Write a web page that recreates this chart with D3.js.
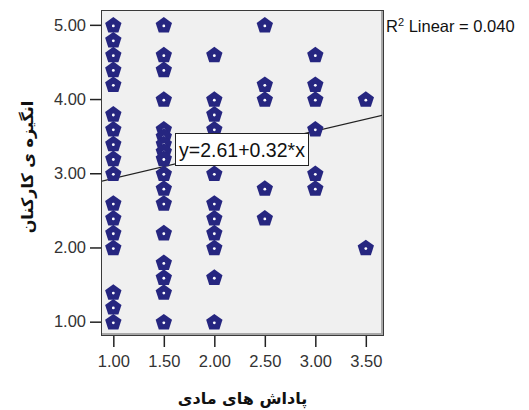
<!DOCTYPE html>
<html>
<head>
<meta charset="utf-8">
<script src="https://cdn.jsdelivr.net/npm/d3@7"></script>
<style>
  body { margin: 0; background: #fff; }
  svg { display: block; }
</style>
</head>
<body>
<script>
// points, one list per x column
var xColumns = [1.0, 1.5, 2.0, 2.5, 3.0, 3.5];
var yByColumn = [
    [5.0, 4.8, 4.6, 4.4, 4.2, 3.8, 3.6, 3.4, 3.2, 3.0, 2.6, 2.4, 2.2, 2.0, 1.4, 1.2, 1.0],
    [5.0, 4.6, 4.4, 4.0, 3.6, 3.5, 3.4, 3.3, 3.2, 3.0, 2.8, 2.6, 2.2, 1.8, 1.6, 1.4, 1.0],
    [4.6, 4.0, 3.8, 3.6, 3.0, 2.6, 2.4, 2.2, 2.0, 1.6, 1.0],
    [5.0, 4.2, 4.0, 2.8, 2.4],
    [4.6, 4.2, 4.0, 3.6, 3.0, 2.8],
    [4.0, 2.0]
];
var xTicks = [1.0, 1.5, 2.0, 2.5, 3.0, 3.5];
var yTicks = [1.0, 2.0, 3.0, 4.0, 5.0];
var fitIntercept = 2.61, fitSlope = 0.32;
var r2Text = "0.040";
var xTitle = "پاداش های مادی";
var yTitle = "انگیزه ی کارکنان";

var points = [];
xColumns.forEach(function (xv, i) {
    yByColumn[i].forEach(function (yv) { points.push({ x: xv, y: yv }); });
});

var width = 529, height = 410;
var plot = { left: 101, top: 10, right: 384, bottom: 336 };

var x = d3.scaleLinear().domain([0.878, 3.68]).range([plot.left, plot.right]);
var y = d3.scaleLinear().domain([0.807, 5.2]).range([plot.bottom, plot.top]);

var svg = d3.select("body").append("svg")
    .attr("width", width)
    .attr("height", height);

var font = "'Liberation Sans', Arial, sans-serif";

// plot area
svg.append("rect")
    .attr("x", plot.left + 0.5).attr("y", plot.top + 0.5)
    .attr("width", plot.right - plot.left - 1)
    .attr("height", plot.bottom - plot.top - 1)
    .attr("fill", "#f0f0f0")
    .attr("stroke", "#3a3a3a")
    .attr("stroke-width", 1);
// shadow on right and bottom edges
svg.append("path")
    .attr("d", "M" + (plot.right - 2) + "," + (plot.top + 1) + "V" + (plot.bottom - 2) + "H" + (plot.left + 1))
    .attr("fill", "none")
    .attr("stroke", "#a8a8a8")
    .attr("stroke-width", 2);

var clip = svg.append("clipPath").attr("id", "clip")
    .append("rect")
    .attr("x", plot.left + 1).attr("y", plot.top + 1)
    .attr("width", plot.right - plot.left - 3)
    .attr("height", plot.bottom - plot.top - 3);

// axes
var xAxis = svg.append("g")
    .attr("transform", "translate(0," + plot.bottom + ")")
    .call(d3.axisBottom(x).tickValues(xTicks).tickFormat(d3.format(".2f")).tickSize(11).tickPadding(8));
var yAxis = svg.append("g")
    .attr("transform", "translate(" + plot.left + ",0)")
    .call(d3.axisLeft(y).tickValues(yTicks).tickFormat(d3.format(".2f")).tickSize(11).tickPadding(4));

[xAxis, yAxis].forEach(function (ax) {
    ax.select(".domain").remove();
    ax.selectAll(".tick line").attr("stroke", "#222").attr("stroke-width", 1.5);
    ax.selectAll(".tick text")
        .attr("fill", "#333")
        .style("font-family", font)
        .style("font-size", "16.5px");
});

// fit line
var fit = svg.append("g").attr("clip-path", "url(#clip)");
var xd = x.domain();
fit.append("line")
    .attr("x1", x(xd[0])).attr("y1", y(fitIntercept + fitSlope * xd[0]))
    .attr("x2", x(xd[1])).attr("y2", y(fitIntercept + fitSlope * xd[1]))
    .attr("stroke", "#222")
    .attr("stroke-width", 1.2);

// pentagon markers
var pr = 8.6;
var pentagon = d3.line().curve(d3.curveLinearClosed)(d3.range(5).map(function (k) {
    var a = -Math.PI / 2 + k * 2 * Math.PI / 5;
    return [pr * Math.cos(a), pr * Math.sin(a)];
}));

var marks = fit.selectAll(".pt")
    .data(points)
    .enter().append("g")
    .attr("class", "pt")
    .attr("transform", function (d) { return "translate(" + x(d.x) + "," + (y(d.y) + 0.8) + ")"; });
marks.append("path")
    .attr("d", pentagon)
    .attr("fill", "#262680");
marks.append("circle")
    .attr("r", 1.4)
    .attr("cy", 0.3)
    .attr("fill", "#fff");

// equation label
svg.append("rect")
    .attr("x", 175.5).attr("y", 133.5)
    .attr("width", 133).attr("height", 32)
    .attr("fill", "#fff")
    .attr("stroke", "#222");
svg.append("text")
    .attr("x", 242).attr("y", 157)
    .attr("text-anchor", "middle")
    .style("font-family", font)
    .style("font-size", "19.5px")
    .attr("fill", "#111")
    .text("y=" + fitIntercept.toFixed(2) + "+" + fitSlope.toFixed(2) + "*x");

// R squared
var r2 = svg.append("text")
    .attr("x", 386).attr("y", 32)
    .style("font-family", font)
    .style("font-size", "16.5px")
    .attr("fill", "#111");
r2.append("tspan").text("R");
r2.append("tspan").attr("dy", -6).style("font-size", "11px").text("2");
r2.append("tspan").attr("dy", 6).text(" Linear = " + r2Text);

// titles
svg.append("text")
    .attr("x", (plot.left + plot.right) / 2)
    .attr("y", 404)
    .attr("text-anchor", "middle")
    .style("font-family", "'DejaVu Sans', sans-serif")
    .style("font-weight", "bold")
    .style("font-size", "16px")
    .attr("fill", "#111")
    .text(xTitle);

svg.append("text")
    .attr("transform", "translate(33," + 167 + ") rotate(-90)")
    .attr("text-anchor", "middle")
    .style("font-family", "'DejaVu Sans', sans-serif")
    .style("font-weight", "bold")
    .style("font-size", "16px")
    .attr("fill", "#111")
    .text(yTitle);
</script>
</body>
</html>
